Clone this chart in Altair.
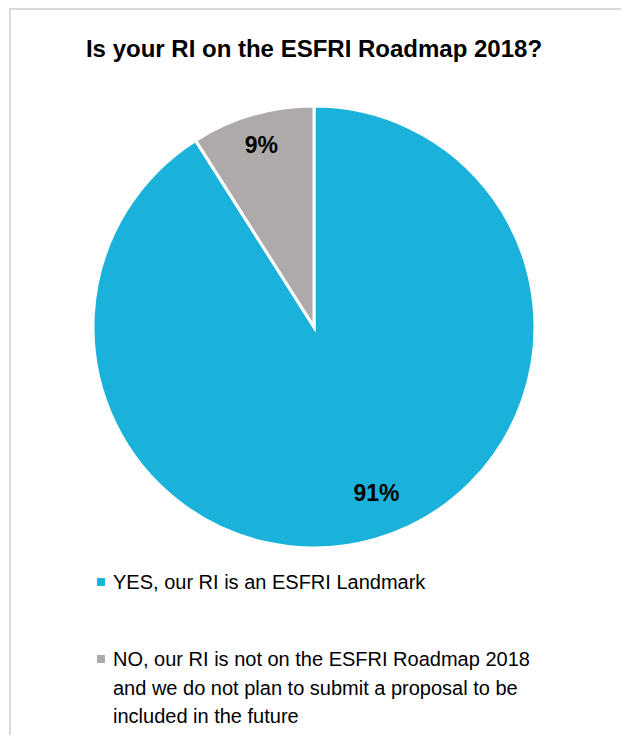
import altair as alt
import pandas as pd

TITLE = "Is your RI on the ESFRI Roadmap 2018?"
categories = [
    "YES, our RI is an ESFRI Landmark",
    "NO, our RI is not on the ESFRI Roadmap 2018 and we do not plan to submit a proposal to be included in the future",
]
legend_text = [
    "YES, our RI is an ESFRI Landmark",
    "NO, our RI is not on the ESFRI Roadmap 2018\nand we do not plan to submit a proposal to be\nincluded in the future",
]
values = [91, 9]
labels = ["91%", "9%"]
colors = ["#1AB1DA", "#AEAAAA"]

df = pd.DataFrame({
    "cat": categories,
    "legend": legend_text,
    "value": values,
    "label": labels,
    "idx": [0, 1],
})

FONT = "Liberation Sans"
CX, CY = 306, 319

base = alt.Chart(df)
color = alt.Color("cat:N", scale=alt.Scale(domain=categories, range=colors), legend=None)
theta_scale = alt.Scale(domain=[0, 100], range=[0, 6.283185307179586])

arcs = base.mark_arc(radius=221, stroke="white", strokeWidth=3).encode(
    theta=alt.Theta("value:Q", stack=True, scale=theta_scale),
    color=color,
    order=alt.Order("idx:Q"),
    x=alt.value(CX),
    y=alt.value(CY),
)

lab_base = base.transform_window(
    cum="sum(value)", sort=[alt.SortField("idx")]
).transform_calculate(mid="datum.cum - datum.value / 2")

lab_big = lab_base.transform_filter("datum.idx == 0").mark_text(
    radius=174, dx=14, fontSize=23, fontWeight="bold", font=FONT, color="black"
).encode(
    theta=alt.Theta("mid:Q", stack=None, scale=theta_scale),
    text="label:N",
    x=alt.value(CX),
    y=alt.value(CY),
)

lab_small = lab_base.transform_filter("datum.idx == 1").mark_text(
    radius=189, fontSize=23, fontWeight="bold", font=FONT, color="black"
).encode(
    theta=alt.Theta("mid:Q", stack=None, scale=theta_scale),
    text="label:N",
    x=alt.value(CX),
    y=alt.value(CY),
)

ypos = alt.Y("cat:N", scale=alt.Scale(type="point", domain=categories, range=[574, 651], padding=0), axis=None)

squares = base.mark_square(size=64, opacity=1).encode(
    x=alt.value(93),
    y=ypos,
    color=color,
)

leg_text = base.mark_text(
    align="left", baseline="alphabetic", fontSize=20, font=FONT, lineBreak="\n",
    lineHeight=28.5, dy=7, color="black"
).encode(
    x=alt.value(105),
    y=ypos,
    text="legend:N",
)

title = alt.Chart(alt.Data(values=[{"t": TITLE}])).mark_text(
    fontSize=24, fontWeight="bold", font=FONT, baseline="alphabetic", align="center", color="black"
).encode(text="t:N", x=alt.value(CX), y=alt.value(49))

border_top = alt.Chart(alt.Data(values=[{"a": 1}])).mark_rule(color="#d9d9d9", strokeWidth=2).encode(
    x=alt.value(2), x2=alt.value(613), y=alt.value(1)
)
border_left = alt.Chart(alt.Data(values=[{"a": 1}])).mark_rule(color="#d9d9d9", strokeWidth=2).encode(
    x=alt.value(2), y=alt.value(0), y2=alt.value(727)
)

chart = alt.layer(
    border_top, border_left, title, arcs, lab_big, lab_small, squares, leg_text
).properties(
    width=613, height=727, padding=0, autosize="none", background="white"
).configure_view(stroke=None)

chart.save("out.html", embed_options={"renderer": "svg", "actions": False})
